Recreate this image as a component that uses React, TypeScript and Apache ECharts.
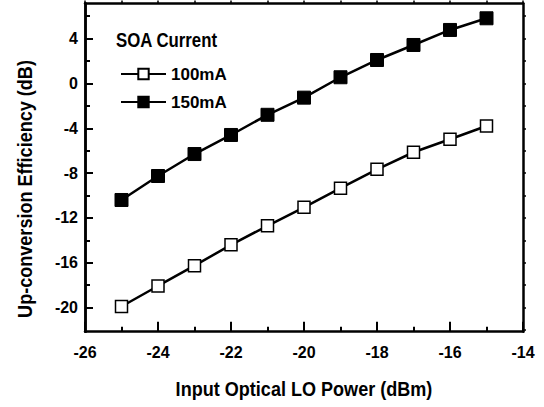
import React, { useEffect, useRef } from "react";
import * as echarts from "echarts";

const FONT = "'Liberation Sans', Arial, sans-serif";

const loPower = [-25, -24, -23, -22, -21, -20, -19, -18, -17, -16, -15];
const current100 = [-19.9, -18.07, -16.26, -14.4, -12.7, -11.05, -9.35, -7.66, -6.14, -4.98, -3.8];
const current150 = [-10.4, -8.26, -6.3, -4.6, -2.8, -1.27, 0.55, 2.09, 3.43, 4.77, 5.81];
const yMajorTicks = [-20, -16, -12, -8, -4, 0, 4];
const yMinorTicks = [-18, -14, -10, -6, -2, 2, 6];
const yAllTicks = [-22, -20, -18, -16, -14, -12, -10, -8, -6, -4, -2, 0, 2, 4, 6];
const seriesNames = ["100mA", "150mA"];

export default function App() {
  const ref = useRef<HTMLDivElement>(null);
  useEffect(() => {
    const chart = echarts.init(ref.current!, null, { renderer: "svg" });
    const axisLine = { show: true, onZero: false, lineStyle: { color: "#000", width: 2.5 } };
    const yMin = -22.15, yMax = 7.13;
    const labelStyle = { color: "#000", fontSize: 16, fontWeight: "bold" as const, fontFamily: FONT };
    const titleStyle = { fill: "#000", fontSize: 21, fontWeight: "bold" as const, fontFamily: FONT };
    const option: any = {
      animation: false,
      backgroundColor: "#fff",
      grid: { left: 85, top: 3.5, width: 438, height: 328.2, containLabel: false },
      xAxis: [
        {
          type: "value", position: "bottom", min: -26, max: -14, interval: 2,
          axisLine,
          axisTick: { show: true, inside: true, length: 10, lineStyle: { color: "#000", width: 2 } },
          minorTick: { show: true, splitNumber: 2, length: 5, lineStyle: { color: "#000", width: 2 } },
          axisLabel: { ...labelStyle, margin: 13 },
          splitLine: { show: false }, minorSplitLine: { show: false },
        },
        {
          type: "value", position: "top", min: -26, max: -14, interval: 1,
          axisLine,
          axisTick: { show: true, inside: false, length: 3, lineStyle: { color: "#000", width: 1.5 } },
          axisLabel: { show: false }, splitLine: { show: false },
        },
      ],
      yAxis: [
        {
          type: "value", position: "left", min: yMin, max: yMax,
          axisLine,
          axisTick: { show: true, inside: true, length: 8, customValues: yMajorTicks, lineStyle: { color: "#000", width: 2 } },
          axisLabel: { ...labelStyle, margin: 7, customValues: yMajorTicks },
          splitLine: { show: false },
        },
        {
          type: "value", position: "left", min: yMin, max: yMax,
          axisLine,
          axisTick: { show: true, inside: true, length: 5, customValues: yMinorTicks, lineStyle: { color: "#000", width: 2 } },
          axisLabel: { show: false }, splitLine: { show: false },
        },
        {
          type: "value", position: "right", min: yMin, max: yMax,
          axisLine,
          axisTick: { show: true, inside: false, length: 3, customValues: yAllTicks, lineStyle: { color: "#000", width: 1.5 } },
          axisLabel: { show: false }, splitLine: { show: false },
        },
      ],
      legend: {
        data: seriesNames,
        orient: "vertical",
        left: 115, top: 60,
        itemWidth: 45, itemHeight: 13, itemGap: 10,
        textStyle: { color: "#000", fontSize: 17, fontWeight: "bold", fontFamily: FONT, lineHeight: 18 },
      },
      graphic: [
        { type: "text", x: 116, y: 40, scaleX: 0.8, style: { ...titleStyle, text: "SOA Current", align: "left", verticalAlign: "middle" } },
        { type: "text", x: 304, y: 388, scaleX: 0.86, style: { ...titleStyle, text: "Input Optical LO Power (dBm)", align: "center", verticalAlign: "middle" } },
        { type: "text", x: 24, y: 189, rotation: Math.PI / 2, scaleX: 0.86, style: { ...titleStyle, text: "Up-conversion Efficiency (dB)", align: "center", verticalAlign: "middle" } },
      ],
      series: [
        {
          name: seriesNames[0], type: "line", xAxisIndex: 0, yAxisIndex: 0,
          data: loPower.map((x, i) => [x, current100[i]]),
          symbol: "rect", symbolSize: 12,
          lineStyle: { color: "#000", width: 2.5 },
          itemStyle: { color: "#fff", borderColor: "#000", borderWidth: 1.5 },
        },
        {
          name: seriesNames[1], type: "line", xAxisIndex: 0, yAxisIndex: 0,
          data: loPower.map((x, i) => [x, current150[i]]),
          symbol: "rect", symbolSize: 13,
          lineStyle: { color: "#000", width: 2.5 },
          itemStyle: { color: "#000", borderColor: "#000", borderWidth: 1 },
        },
      ],
    };
    chart.setOption(option);
    return () => chart.dispose();
  }, []);
  return <div ref={ref} style={{ position: "fixed", left: 0, top: 0, width: 544, height: 407, background: "#fff" }} />;
}
